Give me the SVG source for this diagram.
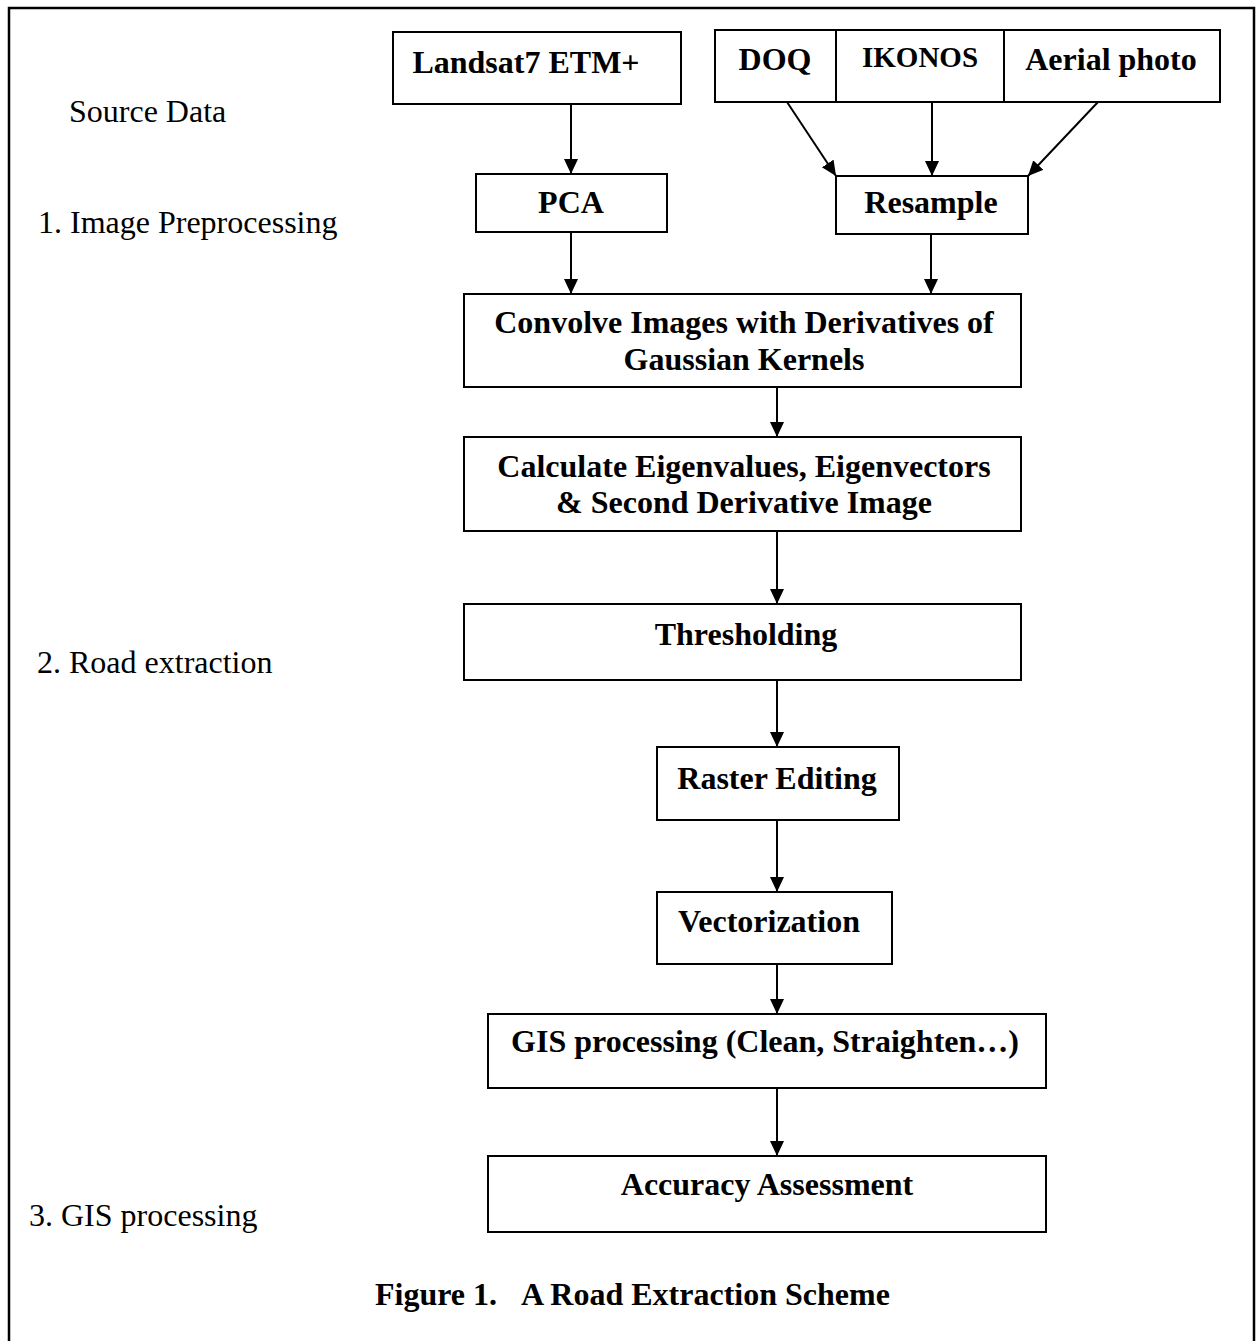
<svg xmlns="http://www.w3.org/2000/svg" width="1258" height="1341" viewBox="0 0 1258 1341">
<defs>
<style>
.box{fill:#fff;stroke:#000;stroke-width:2}
.frame{fill:none;stroke:#000;stroke-width:2.5}
.lbl{font-family:"Liberation Serif","Times New Roman",serif;font-size:32px;fill:#000}
.b{font-family:"Liberation Serif","Times New Roman",serif;font-size:32px;font-weight:bold;fill:#000;text-anchor:middle}
.con line{stroke:#000;stroke-width:2;marker-end:url(#arr)}
</style>
<marker id="arr" markerWidth="16" markerHeight="16" refX="15" refY="7" orient="auto" markerUnits="userSpaceOnUse">
<path d="M0,0 L15,7 L0,14 z" fill="#000"/>
</marker>
</defs>
<rect x="0" y="0" width="1258" height="1341" fill="#fff"/>
<rect class="frame" x="9" y="8" width="1245" height="1345"/>

<g id="labels">
<text class="lbl" x="69" y="122">Source Data</text>
<text class="lbl" x="38" y="233">1. Image Preprocessing</text>
<text class="lbl" x="37" y="673">2. Road extraction</text>
<text class="lbl" x="29" y="1226">3. GIS processing</text>
</g>

<g id="connectors" class="con">
<line x1="571" y1="104" x2="571" y2="174"/>
<line x1="787" y1="102" x2="836" y2="176"/>
<line x1="932" y1="102" x2="932" y2="176"/>
<line x1="1098" y1="102" x2="1028" y2="176"/>
<line x1="571" y1="232" x2="571" y2="294"/>
<line x1="931" y1="234" x2="931" y2="294"/>
<line x1="777" y1="387" x2="777" y2="437"/>
<line x1="777" y1="531" x2="777" y2="604"/>
<line x1="777" y1="676" x2="777" y2="747"/>
<line x1="777" y1="820" x2="777" y2="892"/>
<line x1="777" y1="964" x2="777" y2="1014"/>
<line x1="777" y1="1087" x2="777" y2="1156"/>
</g>

<g id="landsat">
<rect class="box" x="393" y="32" width="288" height="72"/>
<text class="b" x="526" y="73">Landsat7 ETM+</text>
</g>
<g id="doq">
<rect class="box" x="715" y="30" width="121" height="72"/>
<text class="b" x="775" y="70">DOQ</text>
</g>
<g id="ikonos">
<rect class="box" x="836" y="30" width="168" height="72"/>
<text class="b" x="920" y="67" style="font-size:29px">IKONOS</text>
</g>
<g id="aerial">
<rect class="box" x="1004" y="30" width="216" height="72"/>
<text class="b" x="1111" y="70">Aerial photo</text>
</g>
<g id="pca">
<rect class="box" x="476" y="174" width="191" height="58"/>
<text class="b" x="571" y="213">PCA</text>
</g>
<g id="resample">
<rect class="box" x="836" y="176" width="192" height="58"/>
<text class="b" x="931" y="213">Resample</text>
</g>
<g id="convolve">
<rect class="box" x="464" y="294" width="557" height="93"/>
<text class="b" x="744" y="333">Convolve Images with Derivatives of</text>
<text class="b" x="744" y="370">Gaussian Kernels</text>
</g>
<g id="calculate">
<rect class="box" x="464" y="437" width="557" height="94"/>
<text class="b" x="744" y="477">Calculate Eigenvalues, Eigenvectors</text>
<text class="b" x="744" y="513">&amp; Second Derivative Image</text>
</g>
<g id="thresholding">
<rect class="box" x="464" y="604" width="557" height="76"/>
<text class="b" x="746" y="645">Thresholding</text>
</g>
<g id="raster">
<rect class="box" x="657" y="747" width="242" height="73"/>
<text class="b" x="777" y="789">Raster Editing</text>
</g>
<g id="vectorization">
<rect class="box" x="657" y="892" width="235" height="72"/>
<text class="b" x="769" y="932">Vectorization</text>
</g>
<g id="gis">
<rect class="box" x="488" y="1014" width="558" height="74"/>
<text class="b" x="765" y="1052">GIS processing (Clean, Straighten…)</text>
</g>
<g id="accuracy">
<rect class="box" x="488" y="1156" width="558" height="76"/>
<text class="b" x="767" y="1195">Accuracy Assessment</text>
</g>
<g id="caption">
<text class="b" x="375" y="1305" style="text-anchor:start">Figure 1.</text>
<text class="b" x="521" y="1305" style="text-anchor:start">A Road Extraction Scheme</text>
</g>
</svg>
